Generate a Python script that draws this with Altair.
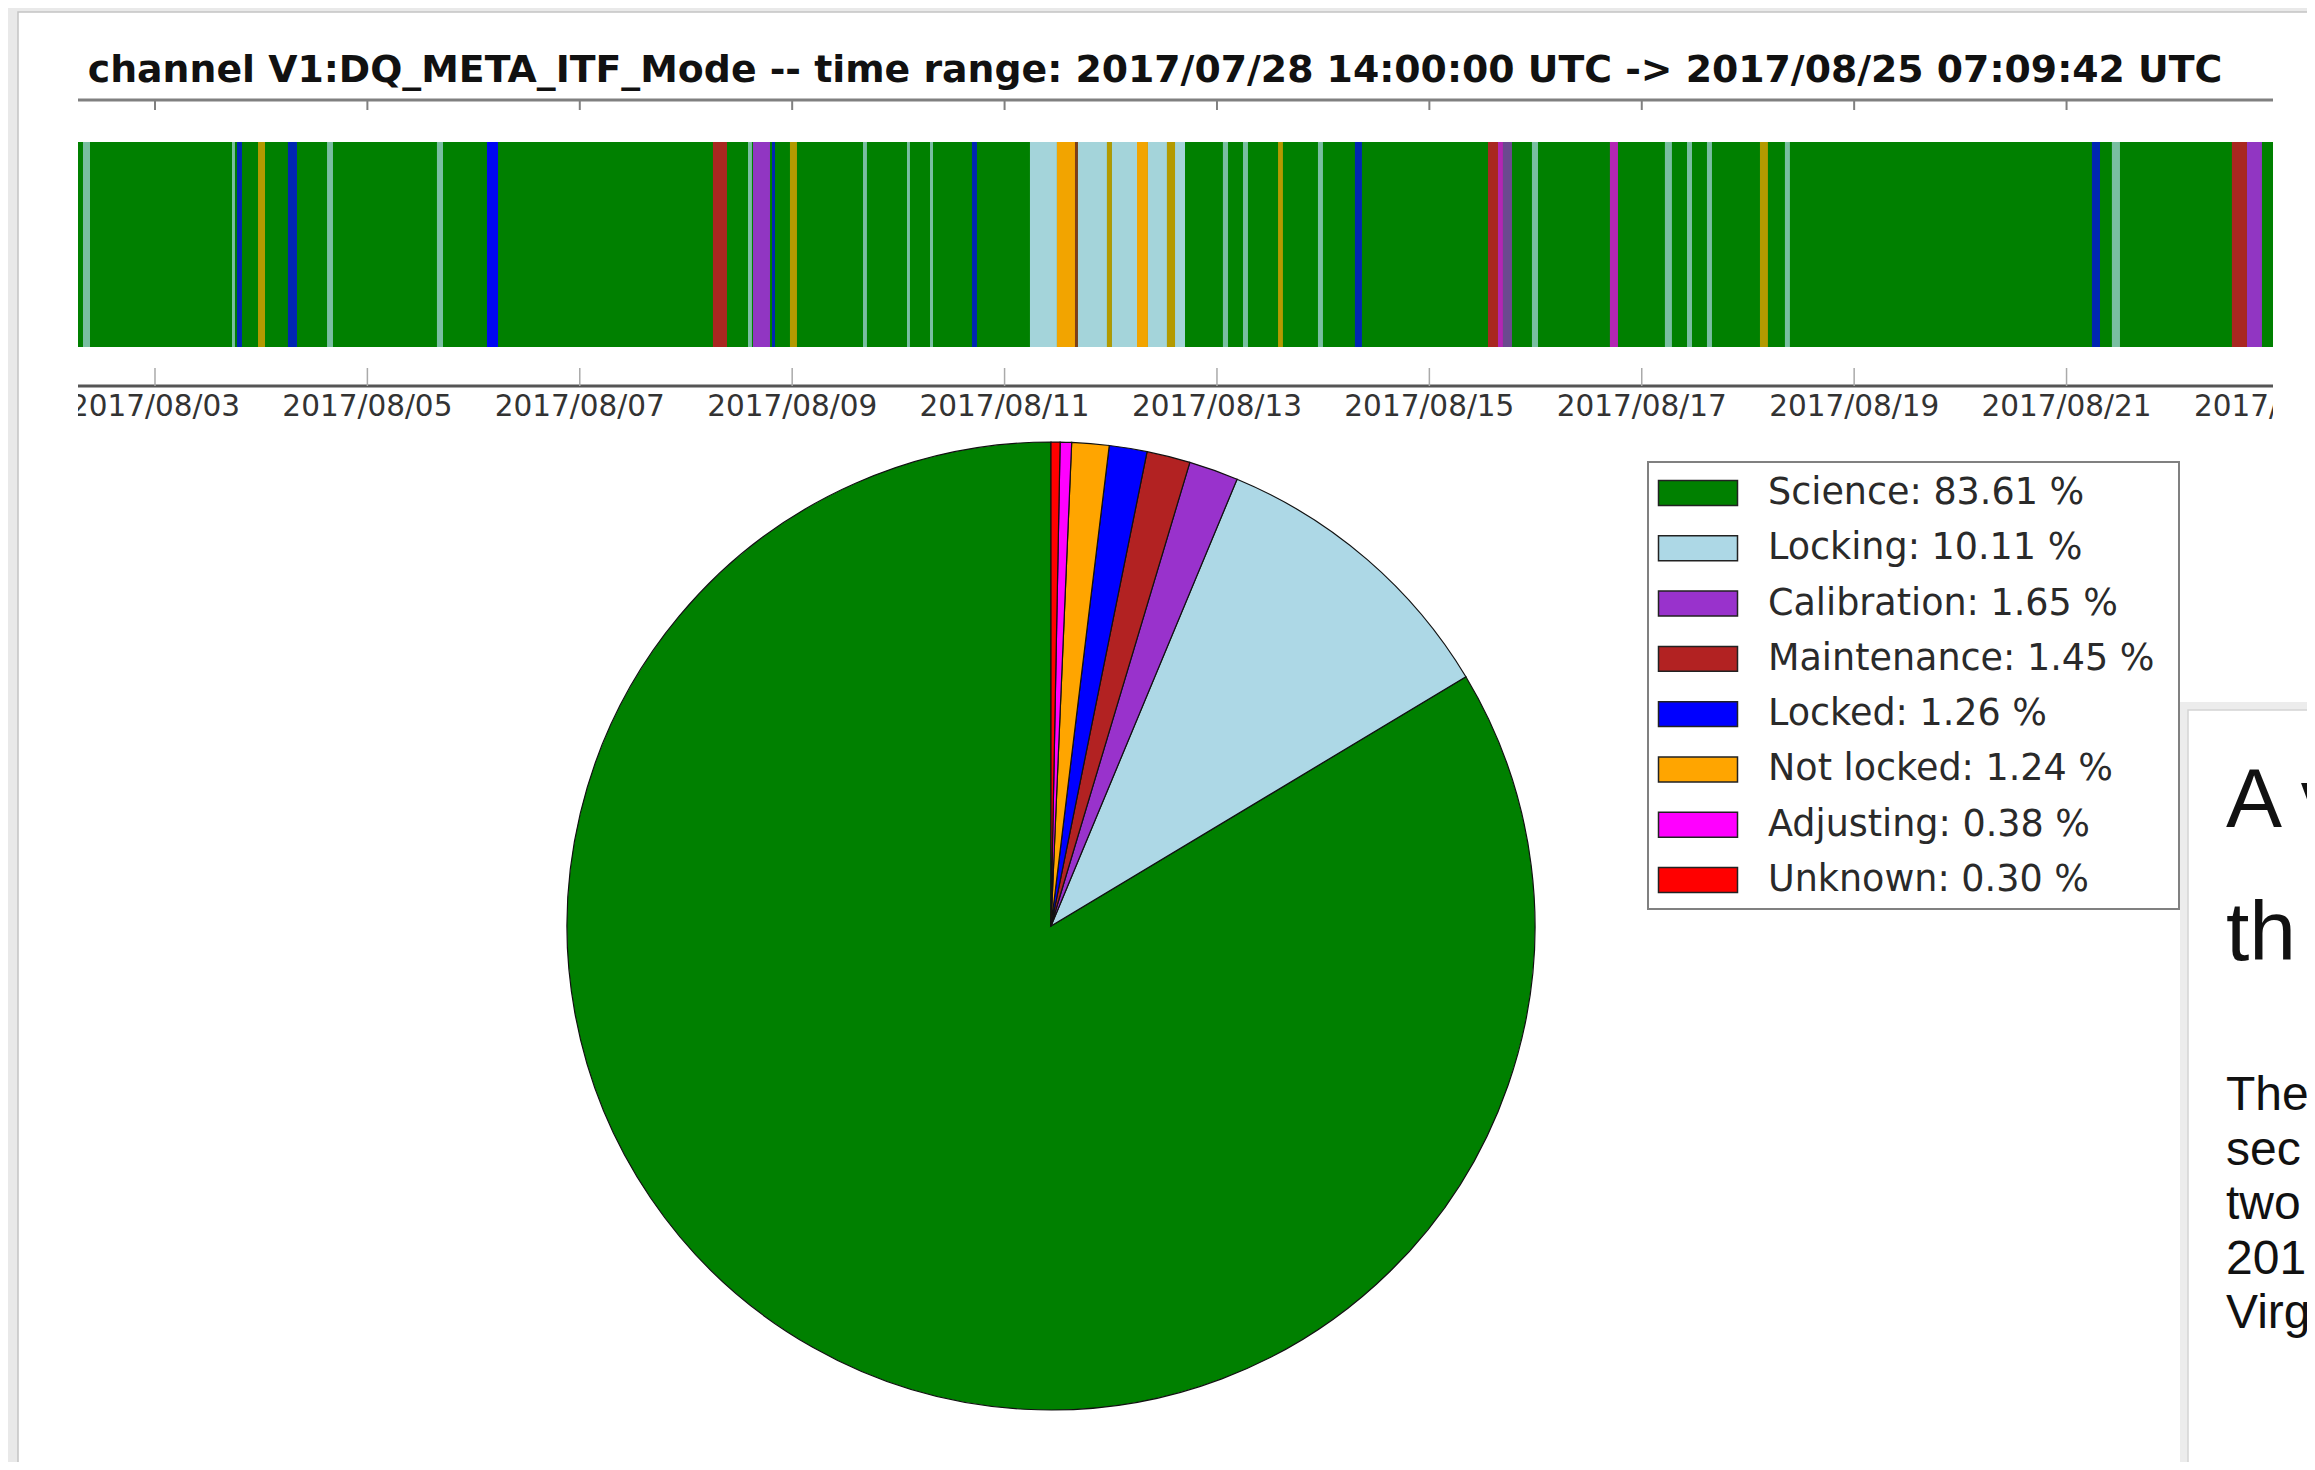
import altair as alt
import pandas as pd

# ---------------- data ----------------
states = ["Science", "Locking", "Calibration", "Maintenance", "Locked",
          "Not locked", "Adjusting", "Unknown"]
percents = [83.61, 10.11, 1.65, 1.45, 1.26, 1.24, 0.38, 0.30]
colors = ["#008000", "#add8e6", "#9932cc", "#b22222", "#0000ff",
          "#ffa500", "#ff00ff", "#ff0000"]
# wedge order clockwise from 12 o'clock
pie_order = [7, 6, 5, 4, 3, 2, 1, 0]

title_text = ("channel V1:DQ_META_ITF_Mode -- time range: "
              "2017/07/28 14:00:00 UTC -> 2017/08/25 07:09:42 UTC")

# timeline segments, in days since 2017-08-01 00:00 UTC
view_start_day = 1.275
view_end_day = 21.944
seg_state = ["Locking", "Locking", "Locked", "Not locked", "Locked", "Locking",
             "Locking", "Locked", "Maintenance", "Locking", "Calibration",
             "Locked", "Not locked", "Locking", "Locking", "Locking", "Locked",
             "Locking", "Not locked", "Maintenance", "Locking", "Not locked",
             "Locking", "Not locked", "Locking", "Not locked", "Locking",
             "Locking", "Locking", "Not locked", "Locking", "Locked",
             "Maintenance", "Adjusting", "Calibration", "Locking", "Adjusting",
             "Locking", "Locking", "Locking", "Not locked", "Locking",
             "Locked", "Locking", "Maintenance", "Calibration"]
seg_start = [1.322, 2.725, 2.772, 2.970, 3.252, 3.620, 4.655, 5.126, 7.254,
             7.584, 7.631, 7.810, 7.979, 8.667, 9.081, 9.298, 9.693, 10.239,
             10.493, 10.663, 10.691, 10.964, 11.011, 11.247, 11.350, 11.529,
             11.605, 12.056, 12.245, 12.575, 12.951, 13.299, 14.552, 14.646,
             14.693, 14.966, 15.700, 16.218, 16.426, 16.614, 17.113, 17.348,
             20.239, 20.427, 21.557, 21.699]
seg_end = [1.388, 2.753, 2.819, 3.036, 3.337, 3.676, 4.712, 5.230, 7.386,
           7.621, 7.791, 7.838, 8.045, 8.704, 9.109, 9.326, 9.740, 10.493,
           10.663, 10.691, 10.964, 11.011, 11.247, 11.350, 11.529, 11.605,
           11.699, 12.104, 12.292, 12.621, 12.998, 13.365, 14.646, 14.693,
           14.778, 15.023, 15.776, 16.284, 16.473, 16.661, 17.188, 17.395,
           20.315, 20.503, 21.699, 21.840]

tick_labels = ["2017/08/03", "2017/08/05", "2017/08/07", "2017/08/09",
               "2017/08/11", "2017/08/13", "2017/08/15", "2017/08/17",
               "2017/08/19", "2017/08/21", "2017/08/23"]

heading_lines = ["A v", "th"]
body_lines = ["The", "sec", "two", "201", "Virg"]

# ---------------- helpers ----------------
BASE = pd.Timestamp("2017-08-01", tz="UTC")


def iso(day):
    return (BASE + pd.to_timedelta(day, unit="D")).strftime("%Y-%m-%dT%H:%M:%S.%fZ")


def ms(day):
    return int((BASE + pd.to_timedelta(day, unit="D")).timestamp() * 1000)


W, H = 2195, 335
xscale = alt.Scale(type="utc", domain=[ms(view_start_day), ms(view_end_day)])
cscale = alt.Scale(domain=states, range=colors)
color_enc = alt.Color("state:N", scale=cscale, legend=None)
one = pd.DataFrame({"k": [0]})

# ---------------- frames / background ----------------
card = alt.Chart(one).mark_rect(fill="white", stroke="#c4c4c4", strokeWidth=1.5).encode(
    x=alt.value(-60), x2=alt.value(2400), y=alt.value(-80), y2=alt.value(1500))

# ---------------- title ----------------
title = alt.Chart(pd.DataFrame({"t": [title_text]})).mark_text(
    font="DejaVu Sans", fontSize=37.8, fontWeight="bold", color="#111",
    align="center", baseline="middle").encode(
    x=alt.value(1077), y=alt.value(-21), text="t:N")

# ---------------- timeline ----------------
base_df = pd.DataFrame({"state": ["Science"], "start": [iso(view_start_day)],
                        "end": [iso(view_end_day)]})
seg_df = pd.DataFrame({"state": seg_state,
                       "start": [iso(d) for d in seg_start],
                       "end": [iso(d) for d in seg_end],
                       "dur": [e - s for s, e in zip(seg_start, seg_end)]})
bar_base = alt.Chart(base_df).mark_rect(clip=True).encode(
    x=alt.X("start:T", scale=xscale, axis=None), x2="end:T",
    y=alt.value(50), y2=alt.value(255), color=color_enc)
bar_segs = alt.Chart(seg_df).mark_rect(clip=True).encode(
    x=alt.X("start:T", scale=xscale, axis=None), x2="end:T",
    y=alt.value(50), y2=alt.value(255), color=color_enc,
    opacity=alt.condition("datum.dur > 0.09", alt.value(0.95), alt.value(0.7)))

top_spine = alt.Chart(one).mark_rule(color="#808080", strokeWidth=3).encode(
    x=alt.value(0), x2=alt.value(W), y=alt.value(8))
bottom_spine = alt.Chart(one).mark_rule(color="#555555", strokeWidth=3).encode(
    x=alt.value(0), x2=alt.value(W), y=alt.value(294))

tick_df = pd.DataFrame({
    "t": [pd.Timestamp(s.replace("/", "-"), tz="UTC").strftime("%Y-%m-%dT%H:%M:%S.%fZ")
          for s in tick_labels],
    "label": tick_labels})
ticks_top = alt.Chart(tick_df).mark_rule(clip=True, color="#808080", strokeWidth=2).encode(
    x=alt.X("t:T", scale=xscale, axis=None), y=alt.value(8), y2=alt.value(18))
ticks_bottom = alt.Chart(tick_df).mark_rule(clip=True, color="#aaaaaa", strokeWidth=1.5).encode(
    x=alt.X("t:T", scale=xscale, axis=None), y=alt.value(294), y2=alt.value(276))
tick_text = alt.Chart(tick_df).mark_text(
    clip=True, font="DejaVu Sans", fontSize=29.5, color="#333",
    align="center", baseline="middle").encode(
    x=alt.X("t:T", scale=xscale, axis=None), y=alt.value(315), text="label:N")

# ---------------- pie ----------------
pie_df = pd.DataFrame({"state": states, "pct": percents, "ord": pie_order})
pie = alt.Chart(pie_df).mark_arc(radius=484, stroke="#111", strokeWidth=1.2).encode(
    theta=alt.Theta("pct:Q", stack=True),
    order=alt.Order("ord:Q", sort="ascending"),
    color=color_enc,
    x=alt.value(973), y=alt.value(834))

# ---------------- legend ----------------
leg_df = pd.DataFrame({"state": states,
                       "label": [f"{s}: {p:.2f} %" for s, p in zip(states, percents)]})
yscale = alt.Scale(type="point", domain=states, range=[401, 788], padding=0)
leg_box = alt.Chart(one).mark_rect(fill="white", stroke="#808080", strokeWidth=2).encode(
    x=alt.value(1570), x2=alt.value(2101), y=alt.value(370), y2=alt.value(817))
leg_sw = alt.Chart(leg_df).mark_point(
    shape="M-1,-0.316H1V0.316H-1Z", size=79 * 79, filled=True, opacity=1,
    stroke="#222", strokeWidth=1.5).encode(
    x=alt.value(1620), y=alt.Y("state:N", scale=yscale, axis=None), color=color_enc)
leg_txt = alt.Chart(leg_df).mark_text(
    font="DejaVu Sans", fontSize=36.5, color="#2a2a2a", align="left", baseline="middle").encode(
    x=alt.value(1690), y=alt.Y("state:N", scale=yscale, axis=None), text="label:N")

# ---------------- page fragment on the right ----------------
shadow = alt.Chart(one).mark_rect(fill="#ececec").encode(
    x=alt.value(2102), x2=alt.value(2400), y=alt.value(610), y2=alt.value(1500))
panel = alt.Chart(one).mark_rect(fill="white", stroke="#d4d4d4", strokeWidth=1.5).encode(
    x=alt.value(2110), x2=alt.value(2400), y=alt.value(618), y2=alt.value(1500))
heading = alt.Chart(one).mark_text(
    text=heading_lines, font="Liberation Sans", fontSize=84, lineHeight=133,
    color="#111", align="left", baseline="alphabetic").encode(
    x=alt.value(2148), y=alt.value(735))
body = alt.Chart(one).mark_text(
    text=body_lines, font="Liberation Sans", fontSize=48, lineHeight=54.5,
    color="#111", align="left", baseline="alphabetic").encode(
    x=alt.value(2148), y=alt.value(1018))

chart = alt.layer(
    card, title, bar_base, bar_segs, top_spine, bottom_spine, ticks_top,
    ticks_bottom, tick_text, pie, leg_box, leg_sw, leg_txt, shadow, panel,
    heading, body
).properties(
    width=W, height=H,
    padding={"left": 70, "top": 84, "right": 34, "bottom": 1035},
    autosize=alt.AutoSizeParams(type="none"),
).configure_view(stroke=None).configure(background="#e9e9e9")

chart.save("out.html", embed_options={"renderer": "svg", "actions": False})
